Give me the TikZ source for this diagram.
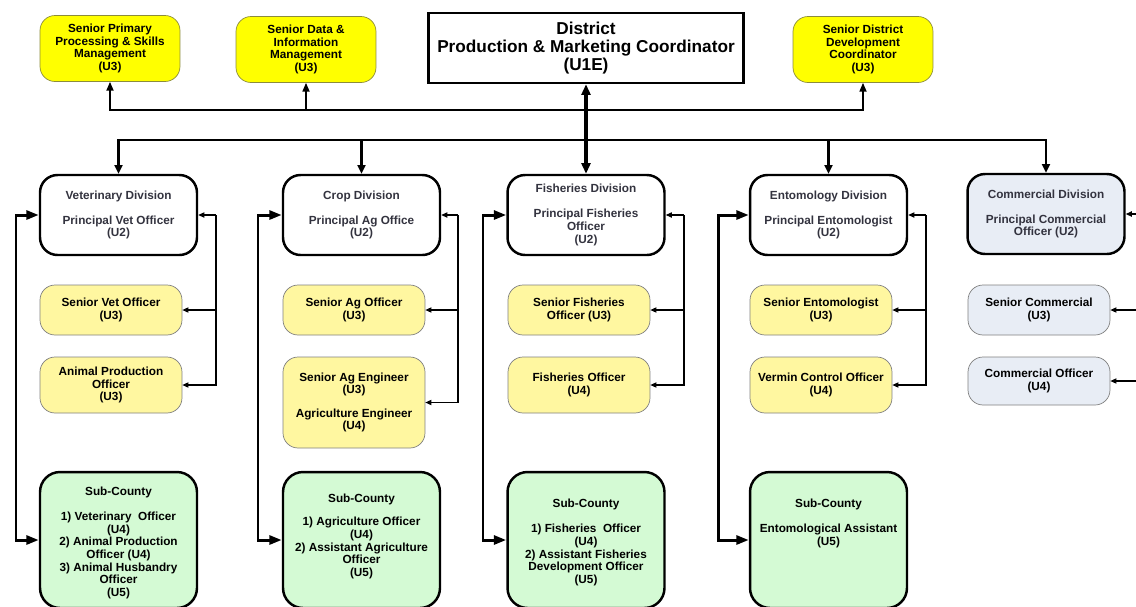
\documentclass[tikz,border=0pt]{standalone}
\usepackage{fontspec}
\setmainfont{Liberation Sans}
\usetikzlibrary{arrows.meta,positioning}

\definecolor{topyellow}{HTML}{FFFF00}
\definecolor{topedge}{HTML}{8C8C3C}
\definecolor{paleyellow}{HTML}{FFF7A0}
\definecolor{palegreen}{HTML}{D4FAD4}
\definecolor{paleblue}{HTML}{E8EDF5}
\definecolor{divtext}{HTML}{33333F}

\tikzset{
    smalltxt/.style={font=\fontsize{6.7}{7.2}\selectfont\bfseries, align=center},
    topbox/.style={smalltxt, draw=topedge, fill=topyellow, rounded corners=0.3cm,
        minimum width=2.8cm, minimum height=1.32cm, inner sep=0pt},
    chief/.style={draw, line width=1.4pt, fill=white, align=center,
        font=\fontsize{9.8}{10.5}\selectfont\bfseries,
        minimum width=6.3cm, minimum height=1.4cm, inner sep=0pt},
    divbox/.style={smalltxt, text=divtext, draw, line width=1.4pt, fill=white, rounded corners=0.35cm,
        minimum width=3.14cm, minimum height=1.6cm, inner sep=0pt},
    staffbox/.style={smalltxt, draw=gray, fill=paleyellow, rounded corners=0.3cm,
        minimum width=2.84cm, minimum height=1cm, inner sep=0pt},
    subbox/.style={draw, line width=1.4pt, fill=palegreen, rounded corners=0.4cm,
        minimum width=3.14cm, minimum height=2.72cm, inner sep=0pt},
    subtext/.style={smalltxt, inner sep=0pt},
    mainlink/.style={{Triangle[length=6pt,width=5pt]}-{Triangle[length=6pt,width=5pt]}, line width=2pt},
    uplink/.style={-{Triangle[length=5pt,width=4pt]}, line width=0.9pt},
    downlink/.style={-{Triangle[length=5pt,width=4.5pt]}, line width=1.2pt},
    stafflink/.style={-{Triangle[length=3.5pt,width=3pt]}, line width=0.6pt},
    sclink/.style={{Triangle[length=7pt,width=5pt]}-{Triangle[length=7pt,width=5pt]}, line width=1.7pt}
}

\begin{document}
\begin{tikzpicture}[x=0.02cm, y=-0.02cm]
    \clip (0,0) rectangle (1136,606);

    % Top row.
    \node[chief] (dpmc) at (586,48) {District\\Production \& Marketing Coordinator\\(U1E)};
    \node[topbox] (sppsm) at (110,48.5) {Senior Primary\\Processing \& Skills\\Management\\(U3)};
    \node[topbox] (sdim) at (306,49.5) {Senior Data \&\\Information\\Management\\(U3)};
    \node[topbox] (sddc) at (863,49.5) {Senior District\\Development\\Coordinator\\(U3)};

    % Divisions.
    \node[divbox] (vet) at (118.5,215) {Veterinary Division\\[7pt]Principal Vet Officer\\(U2)};
    \node[divbox] (crop) at (361.5,215) {Crop Division\\[7pt]Principal Ag Office\\(U2)};
    \node[divbox] (fish) at (586,215) {Fisheries Division\\[7pt]Principal Fisheries\\Officer\\(U2)};
    \node[divbox] (ento) at (828.5,215) {Entomology Division\\[7pt]Principal Entomologist\\(U2)};
    \node[divbox, fill=paleblue] (comm) at (1046,214) {Commercial Division\\[7pt]Principal Commercial\\Officer (U2)};

    % Staff under each division.
    \node[staffbox] (vso) at (111,310) {Senior Vet Officer\\(U3)};
    \node[staffbox, minimum height=1.12cm] (apo) at (111,385) {Animal Production\\Officer\\(U3)};
    \node[staffbox] (sao) at (354,310) {Senior Ag Officer\\(U3)};
    \node[staffbox, minimum height=1.82cm] (sae) at (354,402.5) {Senior Ag Engineer\\(U3)\\[6pt]Agriculture Engineer\\(U4)};
    \node[staffbox] (sfo) at (579,310) {Senior Fisheries\\Officer (U3)};
    \node[staffbox, minimum height=1.12cm] (fo) at (579,385) {Fisheries Officer\\(U4)};
    \node[staffbox] (sen) at (821,310) {Senior Entomologist\\(U3)};
    \node[staffbox, minimum height=1.12cm] (vco) at (821,385) {Vermin Control Officer\\(U4)};
    \node[staffbox, fill=paleblue] (sco) at (1039,310) {Senior Commercial\\(U3)};
    \node[staffbox, fill=paleblue, minimum height=0.96cm] (cof) at (1039,381) {Commercial Officer\\(U4)};

    % Sub-counties.
    \node[subbox] (vetsc) at (118.5,540) {};
    \node[subtext, below=9pt of vetsc.north] (vetsc t) {Sub-County\\[7pt]1) Veterinary~~Officer\\(U4)\\2) Animal Production\\Officer (U4)\\3) Animal Husbandry\\Officer\\(U5)};
    \node[subbox] (cropsc) at (361.5,540) {};
    \node[subtext, below=13pt of cropsc.north] (cropsc t) {Sub-County\\[6pt]1) Agriculture Officer\\(U4)\\2) Assistant Agriculture\\Officer\\(U5)};
    \node[subbox] (fishsc) at (586,540) {};
    \node[subtext, below=16pt of fishsc.north] (fishsc t) {Sub-County\\[7pt]1) Fisheries~~Officer\\(U4)\\2) Assistant Fisheries\\Development Officer\\(U5)};
    \node[subbox] (entosc) at (828.5,540) {};
    \node[subtext, below=16pt of entosc.north] (entosc t) {Sub-County\\[7pt]Entomological Assistant\\(U5)};

    % Links from the coordinator.
    \coordinate (upbus) at (586,110);
    \coordinate (lowbus) at (586,140);
    \draw[mainlink] (dpmc) -- (fish);
    \foreach \n in {sppsm,sdim,sddc}
        \draw[uplink] (upbus) -| (\n);
    \foreach \n in {vet,crop,ento,comm}
        \draw[downlink] (lowbus) -| (\n);

    % Links to the staff.
    \foreach \dv/\xb/\sa/\sb in {vet/216/vso/apo, crop/458/sao/sae, fish/684/sfo/fo, ento/926/sen/vco} {
        \coordinate (\dv r) at (\xb,215);
        \draw[stafflink] (\dv r) -- (\dv);
        \draw[stafflink] (\dv r) |- (\sa);
        \draw[stafflink] (\dv r) |- (\sb);
    }
    \coordinate (comm r) at (1140,214);
    \coordinate (sco r) at (1140,310);
    \coordinate (cof r) at (1140,381);
    \draw[stafflink, line width=1.1pt] (comm r) -- (comm);
    \draw[stafflink] (sco r) -- (sco);
    \draw[stafflink] (cof r) -- (cof);

    % Links to the sub-counties.
    \foreach \dv/\xl in {vet/16, crop/258, fish/483, ento/718} {
        \coordinate (\dv l) at (\xl,540);
        \draw[sclink] (\dv) -| (\dv l) -- (\dv sc);
    }
\end{tikzpicture}
\end{document}
